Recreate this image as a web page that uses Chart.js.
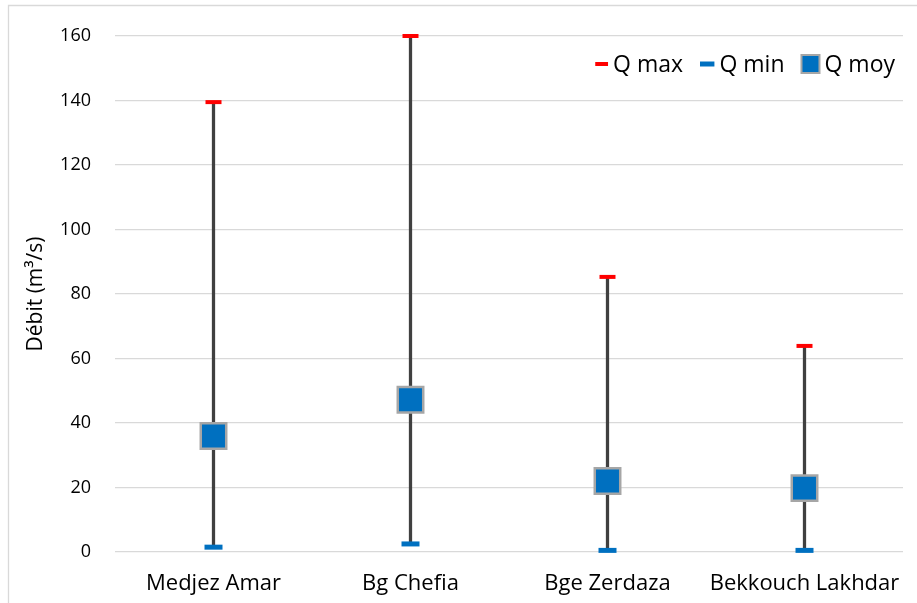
<!DOCTYPE html>
<html>
<head>
<meta charset="utf-8">
<script src="https://cdn.jsdelivr.net/npm/chart.js@4"></script>
<style>
  html, body { margin: 0; padding: 0; background: #fff; }
  #wrap { position: relative; width: 917px; height: 603px; }
</style>
</head>
<body>
<div id="wrap"><canvas id="chartDebit"></canvas></div>
<script>
const stations = ["Medjez Amar", "Bg Chefia", "Bge Zerdaza", "Bekkouch Lakhdar"];
const qMax = [139.5, 160, 85.3, 63.9];
const qMin = [1.5, 2.5, 0.5, 0.5];
const qMoy = [36, 47.2, 22, 19.8];

const fontFamily = "'Open Sans', 'Noto Sans', sans-serif";

// Cadre gris clair autour du graphique
const cadre = {
    id: "cadre",
    beforeDraw(chart) {
        const c = chart.ctx;
        c.save();
        c.fillStyle = "#fff";
        c.fillRect(0, 0, chart.width, chart.height);
        c.strokeStyle = "#d9d9d9";
        c.lineWidth = 1.3;
        c.beginPath();
        c.moveTo(8.5, chart.height);
        c.lineTo(8.5, 5.5);
        c.lineTo(chart.width, 5.5);
        c.stroke();
        c.restore();
    },
};

// Legende dans la zone du graphique, en haut a droite
const legendeHaut = {
    id: "legendeHaut",
    afterDraw(chart) {
        const c = chart.ctx;
        const area = chart.chartArea;
        const y = area.top + 28;
        const items = chart.data.datasets.filter((d) => d.label !== "plage");
        c.save();
        c.font = `23px ${fontFamily}`;
        c.textBaseline = "middle";
        c.fillStyle = "#000";
        let x = area.right - 8;
        for (let i = items.length - 1; i >= 0; i--) {
            const d = items[i];
            const tw = c.measureText(d.label).width;
            x -= tw;
            c.fillText(d.label, x, y + 1);
            x -= 5;
            if (d.pointStyle === "rect") {
                c.fillStyle = d.backgroundColor;
                c.strokeStyle = d.borderColor;
                c.lineWidth = 2;
                c.fillRect(x - 18, y - 9, 18, 18);
                c.strokeRect(x - 18, y - 9, 18, 18);
                x -= 18;
            } else {
                const len = d.pointRadius * 1.6;
                c.strokeStyle = d.borderColor;
                c.lineWidth = d.pointBorderWidth;
                c.beginPath();
                c.moveTo(x - len, y);
                c.lineTo(x, y);
                c.stroke();
                x -= len;
            }
            c.fillStyle = "#000";
            x -= 17;
        }
        c.restore();
    },
};

new Chart(document.getElementById("chartDebit"), {
    type: "bar",
    data: {
        labels: stations,
        datasets: [
            {
                label: "Q max",
                type: "line",
                data: qMax,
                showLine: false,
                pointStyle: "line",
                pointRadius: 8,
                pointBorderWidth: 4,
                borderColor: "#ff0000",
                backgroundColor: "#ff0000",
                clip: false,
                order: 1,
            },
            {
                label: "Q min",
                type: "line",
                data: qMin,
                showLine: false,
                pointStyle: "line",
                pointRadius: 9,
                pointBorderWidth: 5,
                borderColor: "#0070c0",
                backgroundColor: "#0070c0",
                clip: false,
                order: 1,
            },
            {
                label: "Q moy",
                type: "line",
                data: qMoy,
                showLine: false,
                pointStyle: "rect",
                pointRadius: 18,
                pointBorderWidth: 2.5,
                borderColor: "#a6a6a6",
                backgroundColor: "#0070c0",
                clip: false,
                order: 0,
            },
            {
                label: "plage",
                data: stations.map((s, i) => [qMin[i], qMax[i]]),
                backgroundColor: "#404040",
                barThickness: 2.6,
                order: 5,
            },
        ],
    },
    options: {
        responsive: true,
        maintainAspectRatio: false,
        animation: false,
        layout: {
            autoPadding: false,
            padding: { top: 36, right: 14, bottom: 0, left: 23 },
        },
        plugins: {
            tooltip: { enabled: false },
            legend: { display: false },
        },
        scales: {
            x: {
                grid: { display: false, drawTicks: false },
                border: { display: false },
                afterFit: (scale) => {
                    scale.height = 51;
                    scale.paddingLeft = 0;
                    scale.paddingRight = 0;
                },
                ticks: {
                    color: "#000",
                    padding: 19,
                    maxRotation: 0,
                    autoSkip: false,
                    font: { family: fontFamily, size: 22 },
                },
            },
            y: {
                min: 0,
                max: 160,
                afterFit: (scale) => {
                    scale.width = 92;
                },
                grid: { color: "#d9d9d9", lineWidth: 1.3, drawTicks: false },
                border: { display: false },
                ticks: {
                    stepSize: 20,
                    color: "#000",
                    padding: 24,
                    font: { family: fontFamily, size: 18 },
                },
                title: {
                    display: true,
                    text: "Débit (m³/s)",
                    color: "#000",
                    padding: 0,
                    font: { family: fontFamily, size: 21 },
                },
            },
        },
    },
    plugins: [cadre, legendeHaut],
});
</script>
</body>
</html>
